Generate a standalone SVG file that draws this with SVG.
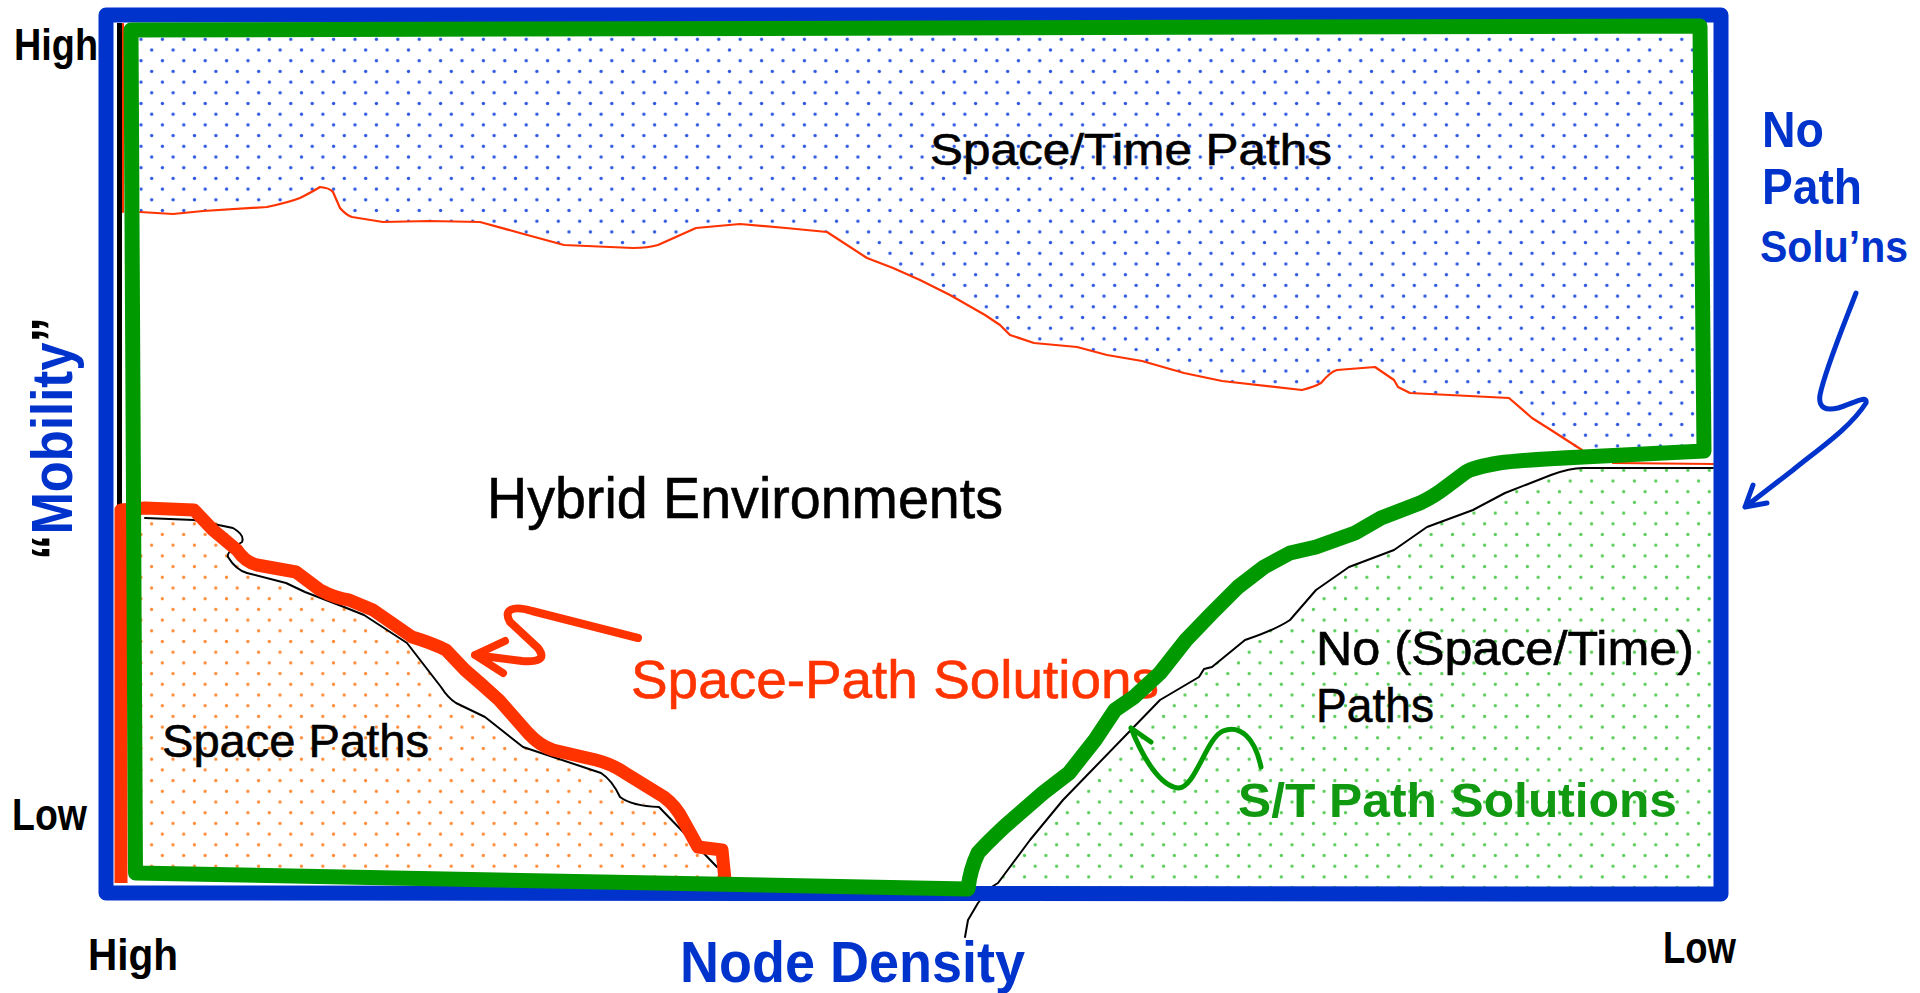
<svg xmlns="http://www.w3.org/2000/svg" width="1920" height="993" viewBox="0 0 1920 993">
<style>
  text { font-family: "Liberation Sans", Arial, sans-serif; }
  .lbl { font-size: 45px; font-weight: bold; fill: #000; }
  .reg { fill: #000; stroke: #000; stroke-width: 0.6; }
  .blueT { fill: #0033cc; font-weight: bold; }
  .thinRed { fill: none; stroke: #ff3300; stroke-width: 2.2; stroke-linejoin: round; stroke-linecap: round; }
  .thinBlack { fill: none; stroke: #000; stroke-width: 2; stroke-linejoin: round; stroke-linecap: round; }
  .arrow { fill: none; stroke-linecap: round; stroke-linejoin: round; }
</style>
<defs>
  <pattern id="dotsBlue" patternUnits="userSpaceOnUse" x="135.65" y="33.95" width="21.4" height="21.4">
    <circle cx="5.35" cy="5.35" r="1.7" fill="#2b55e0"/>
    <circle cx="16.05" cy="16.05" r="1.7" fill="#2b55e0"/>
  </pattern>
  <pattern id="dotsOrange" patternUnits="userSpaceOnUse" x="156.95" y="700.35" width="21.4" height="21.4">
    <circle cx="5.35" cy="5.35" r="1.6" fill="#ff8833"/>
    <circle cx="16.05" cy="16.05" r="1.6" fill="#ff8833"/>
  </pattern>
  <pattern id="dotsGreen" patternUnits="userSpaceOnUse" x="1511.35" y="700.35" width="21.4" height="21.4">
    <circle cx="5.35" cy="5.35" r="1.6" fill="#55cc55"/>
    <circle cx="16.05" cy="16.05" r="1.6" fill="#55cc55"/>
  </pattern>
</defs>
<rect width="1920" height="993" fill="#ffffff"/>

<g id="region-space-time">
  <path fill="url(#dotsBlue)" d="M136,34 L1712,30 L1712,455 L1582,452 L1551,430 L1532,418 L1509,398 L1410,393 L1398,387 L1394,380 L1375,367 L1337,370 L1321,383 L1302,390 L1222,381 L1184,373 L1142,361 L1107,355 L1077,347 L1034,343 L1010,335 L1000,325 L985,315 L950,295 L920,280 L893,268 L867,258 L827,232 L786,228 L740,224 L696,228 L658,245 L633,248 L564,245 L520,233 L480,222 L429,221 L383,222 L352,217 L340,208 L333,192 L320,187 L300,198 L267,207 L203,211 L173,214 L140,212 Z"/>
</g>
<g id="region-space-paths">
  <path fill="url(#dotsOrange)" d="M128,512 L194,514 L233,528 L242,542 L228,557 L247,573 L286,583 L305,592 L344,607 L364,615 L407,643 L441,687 L456,703 L485,717 L523,747 L601,773 L620,797 L659,807 L717,867 L725,885 L128,885 Z"/>
</g>
<g id="region-no-paths">
  <path fill="url(#dotsGreen)" d="M994,887 L1030,840 L1063,800 L1095,767 L1128,733 L1160,700 L1199,677 L1212,667 L1245,640 L1290,620 L1316,590 L1349,567 L1394,550 L1427,527 L1473,510 L1505,493 L1551,475 L1583,468 L1713,468 L1713,887 Z"/>
</g>

<g id="connectors">
  <path class="thinRed" d="M140,212 L173,214 L203,211 L267,207 Q290,202 300,198 Q312,192 320,187 Q330,188 333,192 L340,208 Q346,215 352,217 L383,222 L429,221 L480,222 L520,233 L564,245 L633,248 Q648,248 658,245 L696,228 L740,224 L786,228 L827,232 L867,258 L893,268 L920,280 L950,295 L985,315 L1000,325 L1010,335 L1034,343 L1077,347 L1107,355 L1142,361 L1184,373 L1222,381 L1302,390 Q1314,387 1321,383 Q1330,372 1337,370 L1375,367 L1394,380 L1398,387 L1410,393 L1509,398 L1532,418 L1551,430 L1582,450"/>
  <path class="thinRed" d="M123,24 L123,212"/>
  <path class="thinRed" d="M1613,463 L1713,464"/>
  <path fill="none" stroke="#000" stroke-width="5" d="M119.5,23 L119.5,512"/>
  <path class="thinBlack" d="M145,518 L194,520 L233,528 Q245,535 242,542 Q226,552 228,557 Q236,570 247,573 L286,583 L305,592 L344,607 L364,615 L407,643 L441,687 Q448,698 456,703 L485,717 L523,747 L601,773 Q612,780 620,797 Q632,806 659,807 L717,867"/>
  <path class="thinBlack" d="M965,937 L968,920 L978,903 L990,888 L998,883 L1030,840 L1063,800 L1095,767 L1128,733 L1160,700 L1199,677 L1204,669 L1212,667 L1245,640 Q1275,630 1290,620 L1316,590 L1349,567 L1394,550 L1427,527 L1473,510 L1505,493 L1551,475 Q1570,468 1583,468 L1713,468"/>

  <path id="blue-frame" fill="none" stroke="#0033cc" stroke-width="15" stroke-linejoin="round" d="M106,15 L1721,15 L1721,894 L106,893 Z"/>

  <path id="space-path-boundary" fill="none" stroke="#ff3300" stroke-width="13" stroke-linejoin="round" stroke-linecap="butt" d="M121,883 L121,510 L145,508 L194,510 L213,530 L237,550 Q245,562 257,565 L296,572 L320,590 Q335,598 349,600 L373,610 L412,637 Q432,643 446,650 L465,670 L480,683 L499,700 L528,733 Q540,746 553,750 L596,760 Q612,764 625,773 L664,797 Q676,806 683,820 L698,847 L722,850 L725,880"/>

  <path class="arrow" stroke="#ff3300" stroke-width="8" d="M638,638 L532,611 C512,605 503,610 510,622 L538,648 C547,660 537,662 522,661 L475,655 M505,641 L475,655 L503,673"/>
  <path class="arrow" stroke="#009900" stroke-width="5" d="M1261,767 C1255,738 1240,724 1223,731 C1206,738 1195,789 1178,788 C1160,786 1143,758 1131,728 M1151,742 L1131,728"/>
  <path class="arrow" stroke="#0033cc" stroke-width="5" d="M1856,293 C1845,322 1825,370 1820,395 C1818,408 1826,411 1838,408 C1852,404 1868,394 1866,403 C1850,428 1820,448 1793,470 L1745,507 M1753,485 L1745,507 L1767,503"/>
</g>

<g id="labels">
  <text class="lbl" x="14" y="60" textLength="84" lengthAdjust="spacingAndGlyphs">High</text>
  <text class="lbl" x="12" y="830" textLength="75" lengthAdjust="spacingAndGlyphs">Low</text>
  <text class="lbl" x="88" y="970" textLength="90" lengthAdjust="spacingAndGlyphs">High</text>
  <text class="lbl" x="1663" y="963" textLength="73" lengthAdjust="spacingAndGlyphs">Low</text>
  <text class="blueT" x="680" y="982" font-size="58" textLength="345" lengthAdjust="spacingAndGlyphs">Node Density</text>
  <text class="blueT" transform="translate(72,560) rotate(-90)" x="0" y="0" font-size="58" textLength="243" lengthAdjust="spacingAndGlyphs"><tspan fill="#000">“</tspan>Mobility<tspan fill="#000">”</tspan></text>
</g>

<g id="node-space-time-paths">
  <text class="reg" x="930" y="165" font-size="44" textLength="402" lengthAdjust="spacingAndGlyphs">Space/Time Paths</text>
</g>
<g id="node-hybrid">
  <text class="reg" x="487" y="518" font-size="57" textLength="516" lengthAdjust="spacingAndGlyphs">Hybrid Environments</text>
</g>
<g id="node-space-path-solutions">
  <text x="631" y="698" font-size="53" fill="#ff3300" stroke="#ff3300" stroke-width="0.6" textLength="528" lengthAdjust="spacingAndGlyphs">Space-Path Solutions</text>
</g>
<g id="node-space-paths">
  <text class="reg" x="162" y="757" font-size="47" textLength="267" lengthAdjust="spacingAndGlyphs">Space Paths</text>
</g>
<g id="node-no-paths">
  <text class="reg" x="1316" y="665" font-size="49" textLength="378" lengthAdjust="spacingAndGlyphs">No (Space/Time)</text>
  <text class="reg" x="1316" y="722" font-size="49" textLength="118" lengthAdjust="spacingAndGlyphs">Paths</text>
</g>
<g id="node-st-path-solutions">
  <text x="1238" y="817" font-size="49" font-weight="bold" fill="#119911" textLength="439" lengthAdjust="spacingAndGlyphs">S/T Path Solutions</text>
</g>
<g id="node-no-path-solutions">
  <text class="blueT" x="1762" y="147" font-size="50" textLength="62" lengthAdjust="spacingAndGlyphs">No</text>
  <text class="blueT" x="1762" y="204" font-size="50" textLength="100" lengthAdjust="spacingAndGlyphs">Path</text>
  <text class="blueT" x="1760" y="262" font-size="44" textLength="148" lengthAdjust="spacingAndGlyphs">Solu’ns</text>
</g>

<g id="st-boundary">
  <path id="green-frame" fill="none" stroke="#009900" stroke-width="15" stroke-linejoin="round" d="M131,30 L1700,26 L1704,451 L1583,457 Q1520,460 1499,463 Q1475,467 1466,472 L1446,487 Q1433,497 1420,503 L1381,518 L1355,533 L1316,547 L1290,553 L1264,567 L1238,587 L1212,613 L1186,640 L1160,673 L1134,697 L1115,710 L1095,740 L1069,773 L1043,793 L1004,827 Q985,845 978,853 Q970,870 968,889 L135.5,873 Z"/>
</g>
</svg>
